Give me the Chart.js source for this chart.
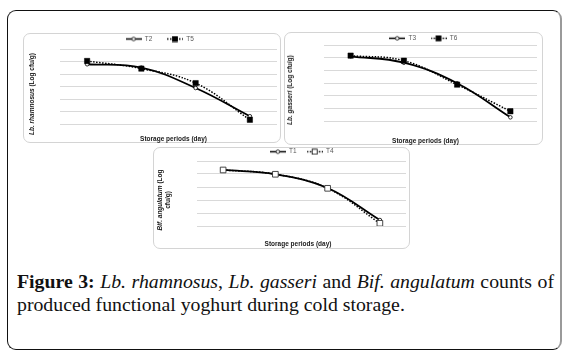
<!DOCTYPE html>
<html><head><meta charset="utf-8">
<script src="https://cdn.jsdelivr.net/npm/chart.js@4.4.1/dist/chart.umd.min.js"></script>
<style>
html,body{margin:0;padding:0;background:#fff;width:578px;height:364px;overflow:hidden;}
#frame{position:absolute;left:7px;top:10px;width:555px;height:340px;border:1.5px solid #111;border-right:2.5px solid #9a9a9a;border-radius:9px;box-sizing:border-box;}
.panel{position:absolute;border:1px solid #d4d4d4;border-radius:7px;box-sizing:border-box;background:#fff;}
.cv{position:absolute;}
.yt,.xt{position:absolute;font-family:"Liberation Sans",Arial,sans-serif;font-weight:bold;font-size:6.5px;color:#1a1a1a;white-space:nowrap;line-height:8px;text-align:center;}
.yt{transform:translate(-50%,-50%) rotate(-90deg);}
.xt{transform:translate(-50%,-50%);}
#cap{position:absolute;left:17px;top:270px;width:537px;font-family:"Liberation Serif","Times New Roman",serif;font-size:19.8px;color:#111;line-height:23px;}
#cap .l1{text-align:justify;text-align-last:justify;white-space:nowrap;}
#cap b{font-weight:bold;}
</style></head>
<body>
<div id="frame"></div>
<div class="panel" style="left:23px;top:33px;width:258px;height:110px;"></div>
<div class="panel" style="left:284px;top:32px;width:259px;height:113px;"></div>
<div class="panel" style="left:153px;top:147px;width:257px;height:102px;"></div>
<canvas id="c1" class="cv" width="258" height="110" style="left:23px;top:33px;"></canvas>
<canvas id="c2" class="cv" width="259" height="113" style="left:284px;top:32px;"></canvas>
<canvas id="c3" class="cv" width="257" height="102" style="left:153px;top:147px;"></canvas>
<div class="yt" style="left:31.5px;top:94px;"><i>Lb. rhamnosus</i> (Log cfu/g)</div>
<div class="yt" style="left:290px;top:90px;"><i>Lb. gasseri</i> (Log cfu/g)</div>
<div class="yt" style="left:164px;top:200px;"><i>Bif. angulatum</i> (Log<br>cfu/g)</div>
<div class="xt" style="left:173.5px;top:139.3px;">Storage periods (day)</div>
<div class="xt" style="left:425.5px;top:141px;">Storage periods (day)</div>
<div class="xt" style="left:298px;top:244.3px;">Storage periods (day)</div>
<div id="cap"><div class="l1"><b>Figure 3:</b> <i>Lb. rhamnosus</i>, <i>Lb. gasseri</i> and <i>Bif. angulatum</i> counts of</div><div>produced functional yoghurt during cold storage.</div></div>
<script>
// ---- data ----
const categories = ['0', '7', '14', '21'];
// Lb. rhamnosus
const t2Values = [8.78, 8.51, 6.88, 4.62];
const t5Values = [9.04, 8.43, 7.27, 4.34];
// Lb. gasseri
const t3Values = [9.11, 8.60, 6.98, 4.29];
const t6Values = [9.16, 8.76, 6.87, 4.77];
// Bif. angulatum
const t1Values = [8.31, 7.98, 6.92, 4.46];
const t4Values = [8.31, 7.98, 6.90, 4.21];
// y axis ranges [min, max, step]
const yRange1 = [4, 10, 1];
const yRange2 = [4, 10, 1];
const yRange3 = [4, 9, 1];

function legendSymbol(dotted, marker, filled) {
  const c = document.createElement('canvas');
  c.width = 16; c.height = 7;
  const x = c.getContext('2d');
  x.strokeStyle = '#000';
  x.lineWidth = 1.5;
  if (dotted) x.setLineDash([1.5, 1.5]);
  x.beginPath(); x.moveTo(0, 3.5); x.lineTo(16, 3.5); x.stroke();
  x.setLineDash([]);
  x.lineWidth = 0.8;
  if (marker === 'circle') {
    x.beginPath(); x.arc(8, 3.5, 1.8, 0, Math.PI * 2);
    x.fillStyle = '#fff'; x.fill(); x.stroke();
  } else {
    x.fillStyle = filled ? '#000' : '#fff';
    x.fillRect(5.5, 1, 5, 5);
    x.strokeRect(5.5, 1, 5, 5);
  }
  return c;
}

const legendPlace = {
  id: 'legendPlace',
  beforeLayout(chart) {
    const lg = chart.legend;
    if (lg && !lg._pl) {
      const f = lg.fit.bind(lg);
      lg.fit = function () { f(); this.height = 0; };
      lg._pl = true;
    }
  },
  afterLayout(chart, args, opts) {
    const lg = chart.legend;
    if (!lg || !opts || opts.cx === undefined) return;
    const w = lg.right - lg.left;
    lg.left = opts.cx - w / 2;
    lg.right = opts.cx + w / 2;
    const p = lg.options.labels.padding;
    lg.top = opts.y - p - lg.options.labels.font.size / 2;
    lg.bottom = lg.top + 30;
  }
};

function solidDs(label, data) {
  return {
    label, data, order: 2,
    borderColor: '#000', borderWidth: 1.8, tension: 0.4, fill: false,
    pointStyle: 'circle', pointRadius: 1.8, pointBackgroundColor: '#fff',
    pointBorderColor: '#000', pointBorderWidth: 0.8
  };
}
function dottedDs(label, data, filled) {
  return {
    label, data, order: 1,
    borderColor: '#000', borderWidth: 1.5, borderDash: [1.5, 1.5], tension: 0.4, fill: false,
    pointStyle: 'rect', pointRadius: filled ? 3.8 : 4,
    pointBackgroundColor: filled ? '#000' : '#fff',
    pointBorderColor: filled ? '#000' : '#333', pointBorderWidth: filled ? 0.5 : 0.9
  };
}

function makeChart(id, dsA, dsB, yr, pad, leg, legPad, filledB) {
  const symA = legendSymbol(false, 'circle', false);
  const symB = legendSymbol(true, 'rect', filledB);
  new Chart(document.getElementById(id), {
    type: 'line',
    data: { labels: categories, datasets: [dsA, dsB] },
    plugins: [legendPlace],
    options: {
      responsive: false, animation: false, devicePixelRatio: 1,
      layout: { padding: pad, autoPadding: false },
      plugins: {
        tooltip: { enabled: false },
        legendPlace: leg,
        legend: {
          display: true, position: 'top',
          labels: {
            usePointStyle: true, pointStyleWidth: 16, padding: legPad,
            color: '#595959', font: { size: 6.5, family: 'Liberation Sans' },
            generateLabels: () => [
              { text: dsA.label, pointStyle: symA, fillStyle: '#000', strokeStyle: '#000', lineWidth: 0, hidden: false, datasetIndex: 0, fontColor: '#595959' },
              { text: dsB.label, pointStyle: symB, fillStyle: '#000', strokeStyle: '#000', lineWidth: 0, hidden: false, datasetIndex: 1, fontColor: '#595959' }
            ]
          }
        }
      },
      scales: {
        x: {
          type: 'category', offset: true,
          grid: { display: false, drawTicks: false },
          border: { display: false },
          ticks: { display: false }
        },
        y: {
          min: yr[0], max: yr[1],
          ticks: { display: false, stepSize: yr[2] },
          grid: { color: '#d9d9d9', lineWidth: 1, drawTicks: false },
          border: { display: false },
          afterFit: (s) => { s.width = 0; }
        }
      }
    }
  });
}

makeChart('c1', solidDs('T2', t2Values), dottedDs('T5', t5Values, true), yRange1,
  { top: 16, left: 37, right: 4, bottom: 19 }, { cx: 136.7, y: 6 }, 14.5, true);
makeChart('c2', solidDs('T3', t3Values), dottedDs('T6', t6Values, true), yRange2,
  { top: 13, left: 40, right: 6, bottom: 24 }, { cx: 139.3, y: 6.3 }, 14.5, true);
makeChart('c3', solidDs('T1', t1Values), dottedDs('T4', t4Values, false), yRange3,
  { top: 14, left: 44, right: 4, bottom: 23 }, { cx: 148.7, y: 4.7 }, 10, false);
</script>
</body></html>
